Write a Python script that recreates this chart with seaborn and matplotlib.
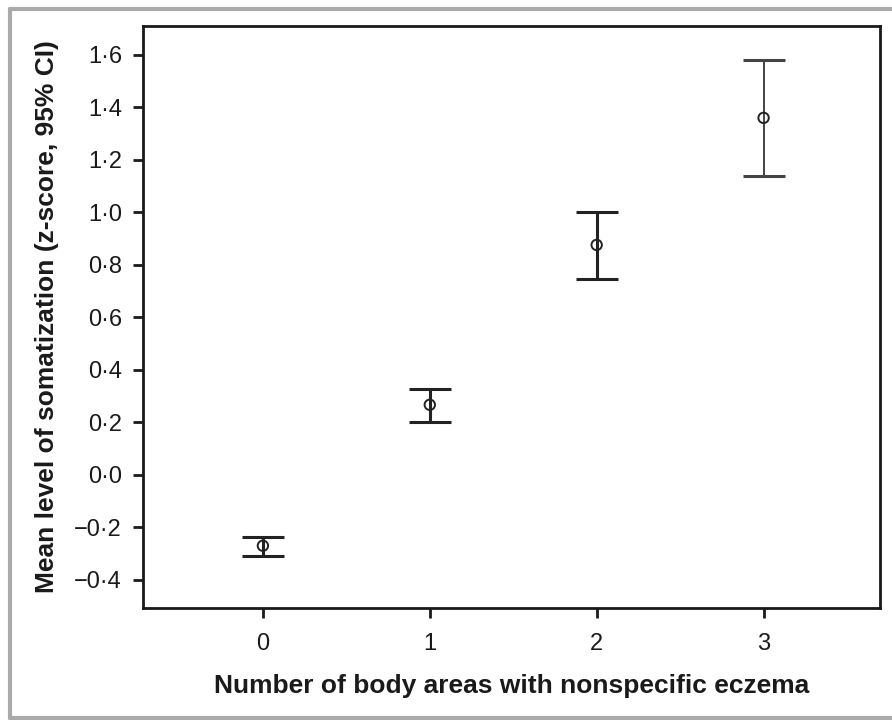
import matplotlib
matplotlib.use("Agg")
import matplotlib.pyplot as plt
import seaborn as sns
import pandas as pd
from matplotlib.ticker import FuncFormatter, FixedLocator
from matplotlib.lines import Line2D

categories = [0, 1, 2, 3]
means = [-0.27, 0.267, 0.876, 1.36]
ci_low = [-0.31, 0.202, 0.747, 1.139]
ci_high = [-0.236, 0.328, 1.002, 1.581]
yticks = [-0.4, -0.2, 0.0, 0.2, 0.4, 0.6, 0.8, 1.0, 1.2, 1.4, 1.6]

df = pd.DataFrame({"areas": categories, "mean": means, "lo": ci_low, "hi": ci_high})

sns.set_style("white")
plt.rcParams["font.family"] = ["Liberation Sans", "DejaVu Sans"]

fig = plt.figure(figsize=(8.92, 7.2), dpi=100)
ax = fig.add_axes([0.160, 0.1556, 0.827, 0.8083])

widths = [2.2, 2.2, 2.2, 1.4]
colors = ["#222222", "#222222", "#222222", "#444444"]
for i, row in df.iterrows():
    ax.errorbar(row["areas"], row["mean"],
                yerr=[[row["mean"] - row["lo"]], [row["hi"] - row["mean"]]],
                fmt="none", ecolor=colors[i], elinewidth=widths[i],
                capsize=15, capthick=2.2, zorder=2)

sns.scatterplot(data=df, x="areas", y="mean", ax=ax, marker="o", s=56,
                facecolor="none", edgecolor="#222222", linewidth=1.4, zorder=3,
                legend=False)

ax.set_xlim(-0.72, 3.70)
ax.set_ylim(-0.507, 1.71)
ax.xaxis.set_major_locator(FixedLocator(categories))
ax.yaxis.set_major_locator(FixedLocator(yticks))

def fmt(v, pos):
    s = f"{abs(v):.1f}".replace(".", "\u00b7")
    return ("\u2212" + s) if v < -1e-9 else s

ax.yaxis.set_major_formatter(FuncFormatter(fmt))
ax.xaxis.set_major_formatter(FuncFormatter(lambda v, p: f"{int(round(v))}"))

for sp in ax.spines.values():
    sp.set_visible(True)
    sp.set_color("#1a1a1a")
    sp.set_linewidth(2.0)

ax.tick_params(axis="both", direction="out", length=7, width=2, color="#1a1a1a",
               labelsize=17, labelcolor="#1a1a1a", pad=8, left=True, bottom=True)
ax.tick_params(axis="x", pad=11)

ax.set_xlabel("Number of body areas with nonspecific eczema", fontsize=19,
              fontweight="bold", color="#1a1a1a", labelpad=14)
ax.set_ylabel("Mean level of somatization (z-score, 95% CI)", fontsize=19,
              fontweight="bold", color="#1a1a1a", labelpad=11)

# gray frame
fc = "#aaaaaa"
fig.add_artist(Line2D([0.0107, 0.0107], [0.003, 0.9875], transform=fig.transFigure, color=fc, lw=3))
fig.add_artist(Line2D([0.0107, 1.0], [0.9875, 0.9875], transform=fig.transFigure, color=fc, lw=3))
fig.add_artist(Line2D([0.0107, 1.0], [0.003, 0.003], transform=fig.transFigure, color=fc, lw=3))

fig.savefig("out.png", dpi=100, facecolor="white")
